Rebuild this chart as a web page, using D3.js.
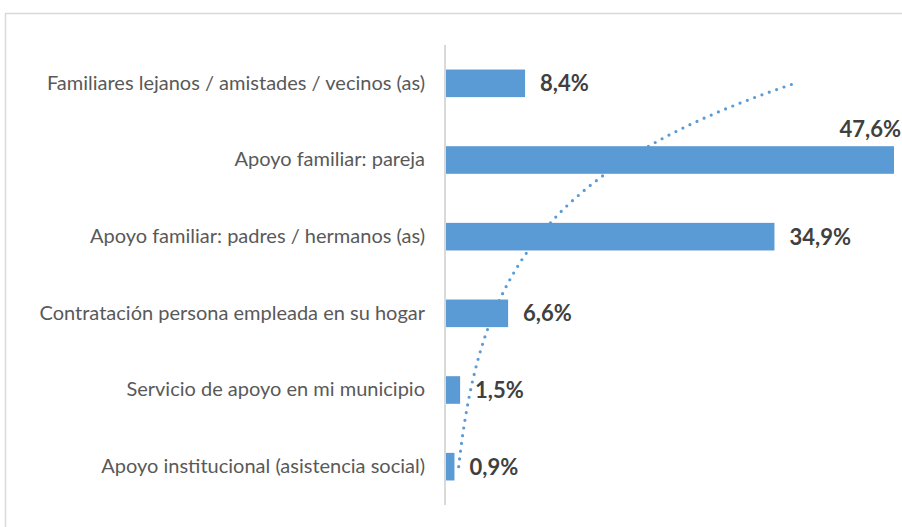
<!DOCTYPE html>
<html>
<head>
<meta charset="utf-8">
<script src="https://cdn.jsdelivr.net/npm/d3@7"></script>
<style>
  body { margin: 0; background: #fff; }
</style>
</head>
<body>
<div id="chart"></div>
<script>
'use strict';

// categories from top to bottom, as drawn
const categories = [
  "Familiares lejanos / amistades / vecinos (as)",
  "Apoyo familiar: pareja",
  "Apoyo familiar: padres / hermanos (as)",
  "Contratación persona empleada en su hogar",
  "Servicio de apoyo en mi municipio",
  "Apoyo institucional (asistencia social)"
];
const values = [8.4, 47.6, 34.9, 6.6, 1.5, 0.9];
const valueLabels = ["8,4%", "47,6%", "34,9%", "6,6%", "1,5%", "0,9%"];

const width = 902, height = 527;
const blue = "#5b9bd5";

let svg = d3.select('#chart')
  .append('svg')
  .attr('width', width)
  .attr('height', height);

// chart frame (runs off the right and bottom edges like the source)
svg.append('rect')
  .attr('x', 5.5)
  .attr('y', 13.5)
  .attr('width', 920)
  .attr('height', 540)
  .attr('fill', 'none')
  .attr('stroke', '#d9d9d9')
  .attr('stroke-width', 1.5);

let yScale = d3.scaleBand()
  .domain(categories)
  .range([45, 505])
  .paddingInner(0.64)
  .paddingOuter(0.32);

let xScale = d3.scaleLinear()
  .domain([0, 47.6])
  .range([446, 894]);

// bars
svg.selectAll('.bar')
  .data(categories)
  .enter()
  .append('rect')
  .attr('class', 'bar')
  .attr('x', xScale(0))
  .attr('y', (d) => yScale(d))
  .attr('width', (d, i) => xScale(values[i]) - xScale(0))
  .attr('height', yScale.bandwidth())
  .attr('fill', blue);

// vertical axis line + category labels
let yAxis = d3.axisLeft(yScale).tickSize(0).tickPadding(20);
let axisG = svg.append('g')
  .attr('transform', 'translate(445, 0)')
  .call(yAxis);
axisG.select('.domain')
  .attr('d', 'M0,45V505')
  .attr('stroke', '#d9d9d9')
  .attr('stroke-width', 2);
axisG.selectAll('text')
  .attr('font-family', 'Lato, sans-serif')
  .attr('font-size', '20px')
  .attr('fill', '#595959');

// exponential trendline (Excel style), x = 1 for bottom category
let pts = values.slice().reverse().map((v, i) => [i + 1, Math.log(v)]);
let mx = d3.mean(pts, (p) => p[0]);
let my = d3.mean(pts, (p) => p[1]);
let b = d3.sum(pts, (p) => (p[0] - mx) * (p[1] - my)) / d3.sum(pts, (p) => (p[0] - mx) * (p[0] - mx));
let a = Math.exp(my - b * mx);

let n = categories.length;
let idxToY = d3.scaleLinear()
  .domain([1, n])
  .range([yScale(categories[n - 1]) + yScale.bandwidth() / 2, yScale(categories[0]) + yScale.bandwidth() / 2]);

let trend = d3.range(1, n + 0.001, 0.05).map((t) => ({ t: t, v: a * Math.exp(b * t) }));
svg.append('path')
  .datum(trend)
  .attr('fill', 'none')
  .attr('stroke', blue)
  .attr('stroke-width', 3.2)
  .attr('stroke-linecap', 'round')
  .attr('stroke-dasharray', '0 7.8')
  .attr('d', d3.line()
    .x((d) => xScale(d.v))
    .y((d) => idxToY(d.t)));

// value labels (the widest one sits above its bar, against the right edge)
svg.selectAll('.val')
  .data(categories)
  .enter()
  .append('text')
  .attr('class', 'val')
  .attr('x', (d, i) => values[i] > 45 ? 901 : xScale(values[i]) + 15)
  .attr('y', (d, i) => values[i] > 45 ? yScale(d) - 9 : yScale(d) + yScale.bandwidth() / 2 + 8)
  .attr('text-anchor', (d, i) => values[i] > 45 ? 'end' : 'start')
  .attr('font-family', 'Lato, sans-serif')
  .attr('font-weight', 'bold')
  .attr('font-size', '22px')
  .attr('fill', '#404040')
  .text((d, i) => valueLabels[i]);
</script>
</body>
</html>
